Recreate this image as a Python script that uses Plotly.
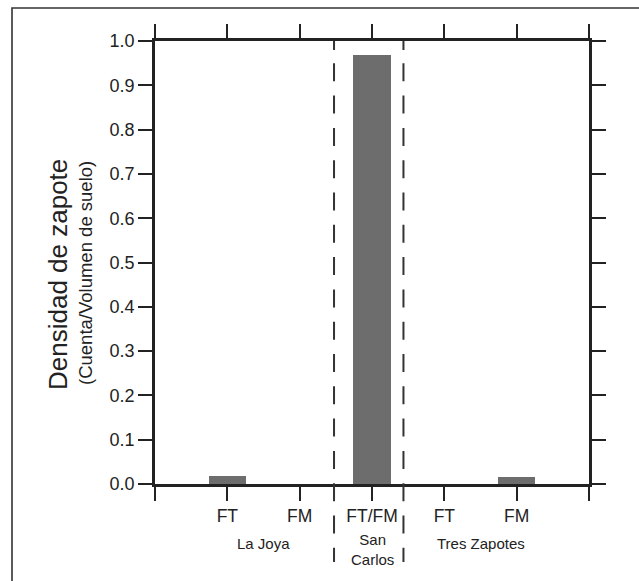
import plotly.graph_objects as go

# ---- data ----
sites = ["La Joya", "La Joya", "San Carlos", "Tres Zapotes", "Tres Zapotes"]
contexts = ["FT", "FM", "FT/FM", "FT", "FM"]
density = [0.017, 0.0, 0.968, 0.0, 0.015]
group_labels = ["La Joya", "San<br>Carlos", "Tres Zapotes"]
separators = [2.475, 3.435]          # dashed dividers between sites (x data units)
y_ticks = [round(i * 0.1, 1) for i in range(11)]

FONT = "Arial, Liberation Sans, sans-serif"
INK = "#222222"

xpos = list(range(1, len(contexts) + 1))
n = len(contexts)

fig = go.Figure()
fig.add_trace(go.Bar(
    x=xpos, y=density, width=0.52,
    marker=dict(color="#6d6d6d", line=dict(width=0)),
    showlegend=False,
))

tickvals = list(range(0, n + 2))
ticktext = [""] + contexts + [""]

fig.update_layout(
    width=639, height=581,
    margin=dict(l=155, r=50, t=41, b=97),
    paper_bgcolor="white", plot_bgcolor="white",
    font=dict(family=FONT, color=INK),
    xaxis=dict(
        range=[0, n + 1], tickvals=tickvals, ticktext=ticktext,
        showgrid=False, zeroline=False,
        showline=True, linecolor=INK, linewidth=2.5, mirror="ticks",
        ticks="outside", ticklen=14, tickwidth=2.2, tickcolor=INK,
        tickfont=dict(size=17.5, family=FONT, color=INK),
    ),
    yaxis=dict(
        range=[0, 1.0], tickvals=y_ticks, ticktext=[f"{v:.1f}" for v in y_ticks],
        showgrid=False, zeroline=False,
        showline=True, linecolor=INK, linewidth=2.5, mirror="ticks",
        ticks="outside", ticklen=14, tickwidth=2.2, tickcolor=INK,
        tickfont=dict(size=18, family=FONT, color=INK),
    ),
    bargap=0,
)

# outer frame (extends past the picture edge at right/bottom)
fig.add_shape(type="rect", xref="paper", yref="paper",
              x0=(12 - 155) / 434, x1=1.3, y0=-0.4, y1=(484 - 8) / 443,
              line=dict(color="#333333", width=1.6), fillcolor="rgba(0,0,0,0)")

# dashed separators
dash = "9px,13.3px," + ",".join(["18px,14.3px"] * 17)
for s in separators:
    fig.add_shape(type="line", xref="x", yref="paper",
                  x0=s, x1=s, y0=1.0, y1=(484 - 562) / 443,
                  line=dict(color="#333333", width=2, dash=dash))

# group labels
groups = []
for s in sites:
    if s not in groups:
        groups.append(s)
for g, lab in zip(groups, group_labels):
    xs = [x for x, s in zip(xpos, sites) if s == g]
    cx = sum(xs) / len(xs)
    fig.add_annotation(x=cx, xref="x", y=(484 - 549) / 443 if "<br>" in lab else (484 - 543) / 443,
                       yref="paper", text=lab, showarrow=False,
                       font=dict(size=15, family=FONT, color=INK),
                       xanchor="center", yanchor="middle")

# y-axis titles
fig.add_annotation(x=(58 - 155) / 434, y=(484 - 275) / 443, xref="paper", yref="paper",
                   text="Densidad de zapote", textangle=-90, showarrow=False,
                   font=dict(size=26, family=FONT, color=INK),
                   xanchor="center", yanchor="middle")
fig.add_annotation(x=(85 - 155) / 434, y=(484 - 273) / 443, xref="paper", yref="paper",
                   text="(Cuenta/Volumen de suelo)", textangle=-90, showarrow=False,
                   font=dict(size=18.5, family=FONT, color=INK),
                   xanchor="center", yanchor="middle")

fig.write_html("out.html")
